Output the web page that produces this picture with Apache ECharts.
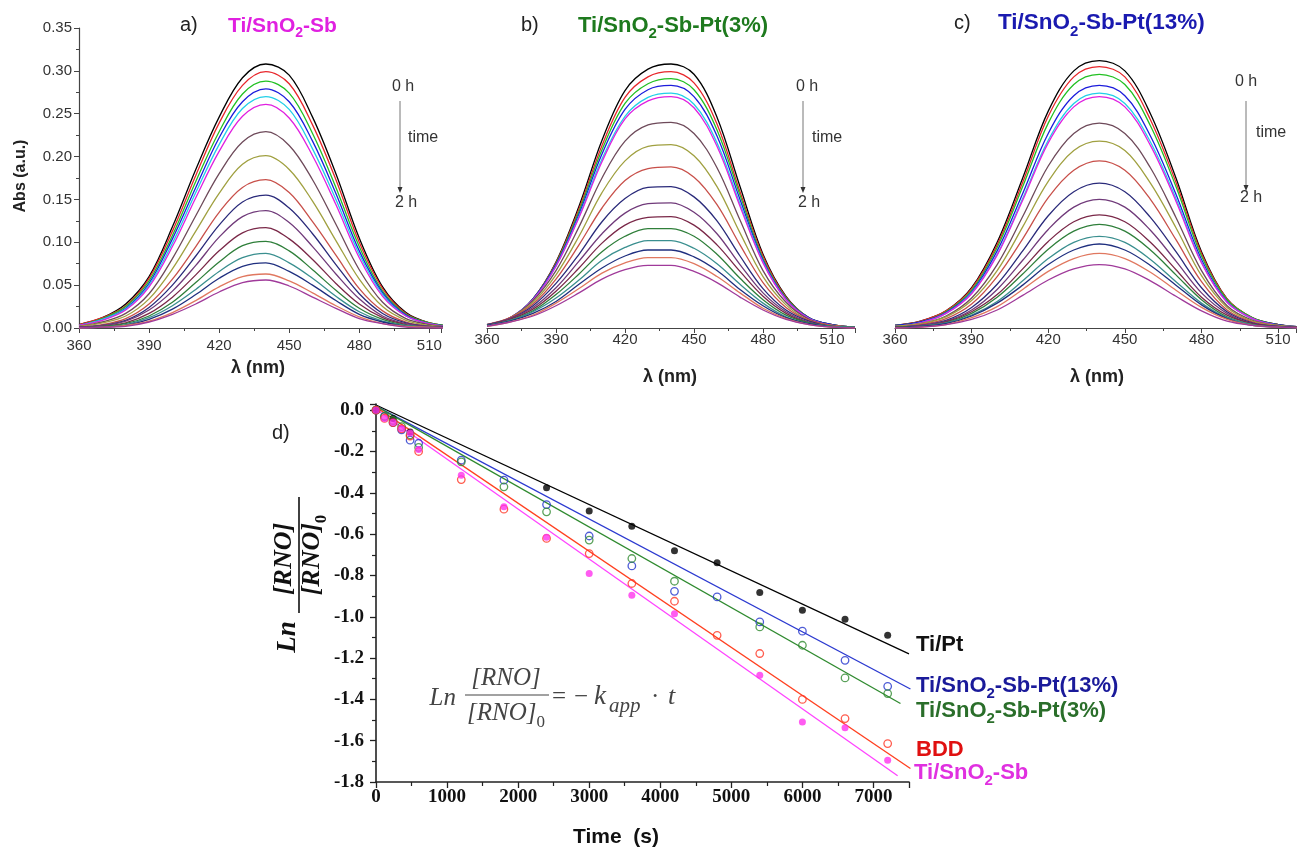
<!DOCTYPE html>
<html><head><meta charset="utf-8">
<script src="https://cdn.jsdelivr.net/npm/echarts@6.0.0/dist/echarts.min.js"></script>
<style>html,body{margin:0;padding:0;background:#fff}#c{width:1297px;height:852px}</style>
</head><body><div id="c"></div><script>
// ---------- DATA ----------
const wavelengths = [360,370,380,390,400,410,420,430,440,450,460,470,480,490,500,510,520];
// panel a) Ti/SnO2-Sb, spectra from 0 h (first) to 2 h (last)
const specA = [
[0.004,0.012,0.028,0.060,0.118,0.185,0.246,0.292,0.308,0.295,0.246,0.180,0.105,0.048,0.018,0.006,0.002],
[0.004,0.012,0.026,0.058,0.113,0.178,0.239,0.283,0.299,0.285,0.237,0.173,0.100,0.046,0.017,0.006,0.002],
[0.003,0.011,0.025,0.055,0.108,0.171,0.229,0.273,0.288,0.274,0.227,0.164,0.095,0.043,0.016,0.006,0.002],
[0.003,0.010,0.023,0.052,0.104,0.164,0.222,0.264,0.279,0.264,0.218,0.157,0.090,0.041,0.015,0.005,0.002],
[0.003,0.010,0.022,0.050,0.099,0.158,0.214,0.256,0.270,0.255,0.209,0.150,0.086,0.039,0.014,0.005,0.001],
[0.003,0.009,0.021,0.048,0.095,0.152,0.206,0.247,0.261,0.245,0.201,0.144,0.082,0.037,0.014,0.005,0.001],
[0.002,0.007,0.017,0.040,0.081,0.131,0.180,0.217,0.229,0.213,0.173,0.121,0.068,0.030,0.011,0.004,0.001],
[0.002,0.006,0.014,0.034,0.069,0.113,0.157,0.191,0.201,0.185,0.148,0.102,0.057,0.025,0.009,0.003,0.001],
[0.001,0.004,0.011,0.028,0.057,0.095,0.135,0.164,0.173,0.158,0.124,0.085,0.046,0.020,0.007,0.002,0.001],
[0.001,0.003,0.009,0.024,0.050,0.084,0.120,0.147,0.155,0.140,0.110,0.074,0.040,0.017,0.006,0.002,0.001],
[0.001,0.003,0.008,0.021,0.043,0.073,0.106,0.130,0.137,0.123,0.095,0.063,0.034,0.014,0.005,0.002,0.000],
[0.000,0.002,0.006,0.017,0.036,0.062,0.090,0.111,0.117,0.104,0.080,0.052,0.028,0.012,0.004,0.001,0.000],
[0.000,0.002,0.005,0.014,0.030,0.053,0.077,0.096,0.101,0.090,0.068,0.044,0.023,0.010,0.003,0.001,0.000],
[0.000,0.001,0.004,0.012,0.026,0.045,0.066,0.082,0.087,0.076,0.058,0.037,0.019,0.008,0.003,0.001,0.000],
[0.000,0.001,0.003,0.010,0.022,0.039,0.058,0.072,0.076,0.066,0.050,0.032,0.016,0.007,0.002,0.001,0.000],
[0.000,0.001,0.003,0.008,0.018,0.032,0.048,0.060,0.063,0.055,0.041,0.026,0.013,0.005,0.002,0.001,0.000],
[0.000,0.001,0.002,0.007,0.016,0.028,0.042,0.053,0.056,0.049,0.036,0.023,0.011,0.005,0.001,0.000,0.000]
];
// panel b) Ti/SnO2-Sb-Pt(3%)
const specB = [
[0.003,0.011,0.034,0.077,0.142,0.219,0.277,0.302,0.308,0.296,0.246,0.165,0.086,0.037,0.012,0.004,0.001],
[0.003,0.011,0.034,0.076,0.139,0.213,0.269,0.293,0.299,0.286,0.238,0.159,0.084,0.036,0.012,0.004,0.001],
[0.003,0.011,0.034,0.075,0.136,0.208,0.262,0.285,0.291,0.278,0.231,0.155,0.081,0.035,0.012,0.004,0.001],
[0.003,0.012,0.034,0.074,0.133,0.203,0.255,0.278,0.283,0.270,0.224,0.150,0.079,0.034,0.012,0.004,0.001],
[0.004,0.012,0.033,0.072,0.130,0.197,0.247,0.269,0.274,0.261,0.216,0.145,0.077,0.033,0.011,0.003,0.001],
[0.004,0.012,0.033,0.072,0.129,0.194,0.244,0.265,0.270,0.257,0.212,0.142,0.076,0.033,0.011,0.003,0.001],
[0.004,0.012,0.032,0.067,0.118,0.175,0.218,0.237,0.240,0.227,0.187,0.126,0.067,0.030,0.010,0.003,0.001],
[0.004,0.012,0.030,0.062,0.107,0.158,0.195,0.212,0.214,0.201,0.165,0.111,0.060,0.027,0.009,0.003,0.001],
[0.004,0.012,0.028,0.057,0.097,0.140,0.172,0.186,0.188,0.176,0.144,0.097,0.053,0.024,0.009,0.003,0.001],
[0.004,0.011,0.026,0.052,0.086,0.124,0.151,0.164,0.165,0.153,0.125,0.084,0.046,0.021,0.008,0.002,0.001],
[0.003,0.011,0.024,0.047,0.078,0.110,0.134,0.145,0.146,0.135,0.110,0.074,0.041,0.019,0.007,0.002,0.001],
[0.003,0.010,0.022,0.043,0.070,0.099,0.120,0.129,0.130,0.120,0.097,0.066,0.037,0.017,0.006,0.002,0.001],
[0.003,0.009,0.020,0.039,0.063,0.089,0.107,0.116,0.116,0.107,0.086,0.058,0.033,0.015,0.006,0.002,0.001],
[0.003,0.009,0.019,0.035,0.056,0.079,0.094,0.102,0.102,0.093,0.075,0.051,0.029,0.013,0.005,0.002,0.001],
[0.003,0.008,0.017,0.031,0.051,0.070,0.084,0.091,0.091,0.083,0.067,0.045,0.026,0.012,0.005,0.001,0.000],
[0.002,0.007,0.015,0.029,0.046,0.064,0.076,0.082,0.082,0.075,0.060,0.041,0.023,0.011,0.004,0.001,0.000],
[0.002,0.007,0.014,0.026,0.041,0.057,0.068,0.073,0.073,0.066,0.053,0.036,0.021,0.010,0.004,0.001,0.000]
];
// panel c) Ti/SnO2-Sb-Pt(13%)
const specC = [
[0.003,0.008,0.020,0.047,0.100,0.175,0.253,0.300,0.312,0.300,0.250,0.175,0.089,0.034,0.012,0.004,0.001],
[0.003,0.008,0.020,0.046,0.097,0.170,0.247,0.293,0.305,0.293,0.243,0.170,0.087,0.034,0.012,0.004,0.001],
[0.003,0.007,0.019,0.044,0.094,0.165,0.239,0.284,0.296,0.284,0.236,0.165,0.084,0.033,0.012,0.004,0.001],
[0.003,0.007,0.018,0.042,0.090,0.157,0.227,0.271,0.283,0.271,0.224,0.156,0.080,0.031,0.011,0.004,0.001],
[0.002,0.006,0.017,0.041,0.086,0.151,0.219,0.262,0.274,0.262,0.217,0.151,0.077,0.030,0.011,0.003,0.001],
[0.002,0.006,0.017,0.040,0.085,0.149,0.216,0.258,0.270,0.258,0.213,0.148,0.076,0.030,0.011,0.003,0.001],
[0.002,0.005,0.014,0.035,0.074,0.130,0.189,0.227,0.239,0.227,0.187,0.129,0.067,0.026,0.009,0.003,0.001],
[0.002,0.005,0.013,0.032,0.067,0.118,0.171,0.207,0.218,0.207,0.169,0.117,0.061,0.024,0.008,0.003,0.001],
[0.001,0.004,0.011,0.028,0.060,0.104,0.152,0.184,0.195,0.184,0.150,0.103,0.054,0.021,0.007,0.002,0.001],
[0.001,0.003,0.009,0.024,0.051,0.090,0.131,0.159,0.169,0.159,0.129,0.089,0.047,0.019,0.006,0.002,0.001],
[0.001,0.003,0.008,0.021,0.045,0.079,0.115,0.141,0.150,0.141,0.114,0.078,0.041,0.017,0.005,0.002,0.000],
[0.001,0.002,0.007,0.019,0.039,0.069,0.101,0.124,0.132,0.124,0.100,0.068,0.036,0.015,0.005,0.001,0.000],
[0.001,0.002,0.006,0.017,0.036,0.063,0.092,0.113,0.121,0.113,0.091,0.062,0.033,0.013,0.004,0.001,0.000],
[0.000,0.002,0.006,0.015,0.031,0.055,0.081,0.100,0.107,0.100,0.080,0.054,0.029,0.012,0.004,0.001,0.000],
[0.000,0.002,0.005,0.014,0.029,0.050,0.074,0.091,0.098,0.091,0.073,0.050,0.027,0.011,0.003,0.001,0.000],
[0.000,0.001,0.004,0.012,0.025,0.045,0.066,0.081,0.087,0.081,0.065,0.044,0.024,0.010,0.003,0.001,0.000],
[0.000,0.001,0.004,0.010,0.021,0.038,0.056,0.069,0.074,0.069,0.055,0.037,0.020,0.008,0.003,0.001,0.000]
];
const curveColors = ['#000000','#e8262b','#22c022','#1c1cdc','#22d0e8','#e020e0','#6e4a5a','#a0a040',
  '#c8504a','#2a2a7a','#703a7a','#7a2848','#2f7f3a','#3a8f8f','#1f2f7f','#e07860','#a03a9a'];
const absTicks = [0,0.35,0.05];            // min, max, step of Abs axis
const lambdaTicks = [360,30];              // first tick, step (nm)

// panel d) kinetics
const timeS  = [0,120,240,360,480,600,1200,1800,2400,3000,3600,4200,4800,5400,6000,6600,7200];
const lnTiPt = [0,null,-0.04,null,-0.105,null,null,null,-0.376,-0.488,-0.562,-0.681,-0.738,-0.883,-0.969,-1.012,-1.090];
const lnPt13 = [0,-0.03,-0.06,-0.095,-0.145,-0.16,-0.242,-0.339,-0.457,-0.609,-0.754,-0.877,-0.904,-1.025,-1.070,-1.211,-1.337];
const lnPt3  = [0,-0.03,-0.05,-0.08,-0.12,-0.18,-0.25,-0.371,-0.492,-0.629,-0.718,-0.828,null,-1.049,-1.138,-1.296,-1.372];
const lnBDD  = [0,-0.04,-0.06,-0.09,-0.125,-0.20,-0.336,-0.479,-0.621,-0.694,-0.839,-0.925,-1.090,-1.178,-1.400,-1.493,-1.614];
const lnSb   = [0,-0.04,-0.06,-0.09,-0.11,-0.19,-0.315,-0.468,-0.615,-0.791,-0.896,-0.985,null,-1.283,-1.509,-1.537,-1.695];
// linear fits (start, end)
const fitTiPt = [[0,0.025],[7500,-1.18]];
const fitPt13 = [[0,0.02],[7520,-1.35]];
const fitPt3  = [[0,0.02],[7380,-1.42]];
const fitBDD  = [[0,0.015],[7520,-1.735]];
const fitSb   = [[0,0.005],[7340,-1.77]];
const seriesNames = ['Ti/Pt','Ti/SnO2-Sb-Pt(13%)','Ti/SnO2-Sb-Pt(3%)','BDD','Ti/SnO2-Sb'];

// ---------- CHART ----------
const SANS = '"Liberation Sans", Arial, sans-serif';
const SERIF = '"Liberation Serif", "Times New Roman", serif';
const chart = echarts.init(document.getElementById('c'), null, {renderer:'canvas'});

function specSeries(spec, idx){
  return spec.map((vals,j)=>({
    type:'line', xAxisIndex:idx, yAxisIndex:idx, symbol:'none', showSymbol:false, smooth:0.35, silent:true,
    lineStyle:{color:curveColors[j], width:1.3}, data: wavelengths.map((w,i)=>[w, vals[i]]), z:2
  }));
}
function pts(vals){ return timeS.map((t,i)=> vals[i]==null? null : [t, vals[i]]).filter(Boolean); }

const axisCol = '#444';
function specX(idx, max, margin){
  return {gridIndex:idx, type:'value', min:lambdaTicks[0], max:max, interval:lambdaTicks[1],
    axisLine:{show:true, onZero:false, lineStyle:{color:axisCol, width:1.2}},
    axisTick:{show:true, length:5, lineStyle:{color:axisCol}},
    minorTick:{show:true, splitNumber:2, length:3, lineStyle:{color:axisCol}},
    splitLine:{show:false}, minorSplitLine:{show:false},
    axisLabel:{margin:margin, fontSize:15, color:'#333', fontFamily:SANS}};
}
function specY(idx, show){
  return {gridIndex:idx, type:'value', min:absTicks[0], max:absTicks[1], interval:absTicks[2], show:show,
    axisLine:{show:true, lineStyle:{color:axisCol, width:1.2}},
    axisTick:{show:true, length:5, lineStyle:{color:axisCol}},
    minorTick:{show:true, splitNumber:2, length:3, lineStyle:{color:axisCol}},
    splitLine:{show:false},
    axisLabel:{margin:7, fontSize:15, color:'#333', fontFamily:SANS, formatter:v=>v.toFixed(2)}};
}

const dCols = {
  tipt:'#000000', p13:'#2233cc', p3:'#2f8a2f', bdd:'#ff3322', sb:'#ff33ee'
};
function fitLine(d,c){ return {type:'line', xAxisIndex:3, yAxisIndex:3, symbol:'none', silent:true, data:d,
  lineStyle:{color:c, width:1.3}, z:3}; }
function scat(name, d, c, filled){ return {type:'scatter', name, xAxisIndex:3, yAxisIndex:3, data:pts(d),
  symbol:'circle', symbolSize:filled?7:7.5, silent:true, z:4,
  itemStyle: filled? {color:c} : {color:'rgba(255,255,255,0)', borderColor:c, borderWidth:1.3}}; }

function T(x,y,text,font,fill,align){
  return {type:'text', x:x, y:y, silent:true, z:50,
    style:{text:text, font:font, fill:fill||'#222', textAlign:align||'left', align:align||'left',
      textVerticalAlign:'middle', verticalAlign:'middle'}};
}
function sub2(x,y,parts,size,color,align){
  // parts: array of [text, isSub]
  const txt = parts.map(p=> (p[1]?'{s|':'{a|') + p[0] + '}').join('');
  const ss = Math.round(size*0.66);
  const lift = Math.round(size*0.2);
  return {type:'text', x:x, y:y, silent:true, z:50,
    style:{text:txt, textAlign:align||'left', align:align||'left', textVerticalAlign:'middle', verticalAlign:'middle',
      rich:{ a:{fontSize:size, fontWeight:'bold', fontFamily:SANS, fill:color, lineHeight:size+2, verticalAlign:'bottom', padding:[0,0,lift,0]},
             s:{fontSize:ss, fontWeight:'bold', fontFamily:SANS, fill:color, lineHeight:ss, verticalAlign:'bottom'} }}};
}
function arrow(x,y1,y2){
  return [
    {type:'line', silent:true, shape:{x1:x,y1:y1,x2:x,y2:y2-4}, style:{stroke:'#777', lineWidth:1}},
    {type:'polygon', silent:true, shape:{points:[[x-2.5,y2-6],[x+2.5,y2-6],[x,y2]]}, style:{fill:'#333'}}
  ];
}

const graphics = [
  // panel titles
  T(180,25,'a)','20px '+SANS,'#222'),
  sub2(228,29,[['Ti/SnO'],['2',1],['-Sb']],21,'#e020e0'),
  T(521,25,'b)','20px '+SANS,'#222'),
  sub2(578,29,[['Ti/SnO'],['2',1],['-Sb-Pt(3%)']],22,'#1e7a1e'),
  T(954,23,'c)','20px '+SANS,'#222'),
  sub2(998,27,[['Ti/SnO'],['2',1],['-Sb-Pt(13%)']],22.5,'#1a1ab0'),
  // time annotations
  T(392,87,'0 h','16px '+SANS,'#333'), T(408,138,'time','16px '+SANS,'#333'), T(395,203,'2 h','16px '+SANS,'#333'),
  ...arrow(400,101,193),
  T(796,87,'0 h','16px '+SANS,'#333'), T(812,138,'time','16px '+SANS,'#333'), T(798,203,'2 h','16px '+SANS,'#333'),
  ...arrow(803,101,193),
  T(1235,82,'0 h','16px '+SANS,'#333'), T(1256,133,'time','16px '+SANS,'#333'), T(1240,198,'2 h','16px '+SANS,'#333'),
  ...arrow(1246,101,191),
  // axis titles top
  {type:'text', x:21, y:176, rotation:Math.PI/2, silent:true,
    style:{text:'Abs (a.u.)', font:'bold 16px '+SANS, fill:'#222', textAlign:'center', align:'center', textVerticalAlign:'middle', verticalAlign:'middle'}},
  T(258,368,'\u03bb (nm)','bold 18px '+SANS,'#222','center'),
  T(670,377,'\u03bb (nm)','bold 18px '+SANS,'#222','center'),
  T(1097,377,'\u03bb (nm)','bold 18px '+SANS,'#222','center'),
  // panel d
  T(272,433,'d)','20px '+SANS,'#222'),
  T(616,837,'Time  (s)','bold 21px '+SANS,'#111','center'),
  // y title of panel d (rotated fraction)
  {type:'group', x:299, y:555, rotation:Math.PI/2, silent:true, children:[
    {type:'text', x:-82, y:-11, style:{text:'Ln', font:'italic bold 27px '+SERIF, fill:'#111', textAlign:'center', align:'center', textVerticalAlign:'middle', verticalAlign:'middle'}},
    {type:'text', x:-4, y:-15, style:{text:'[RNO]', font:'italic bold 26px '+SERIF, fill:'#111', textAlign:'center', align:'center', textVerticalAlign:'middle', verticalAlign:'middle'}},
    {type:'line', shape:{x1:-58,y1:0,x2:58,y2:0}, style:{stroke:'#111', lineWidth:1.6}},
    {type:'text', x:0, y:18, style:{text:'{a|[RNO]}{s|0}', textAlign:'center', align:'center', textVerticalAlign:'middle', verticalAlign:'middle',
      rich:{a:{fontSize:26, fontStyle:'italic', fontWeight:'bold', fontFamily:SERIF, fill:'#111', lineHeight:27, verticalAlign:'bottom', padding:[0,0,5,0]},
            s:{fontSize:17, fontWeight:'bold', fontFamily:SERIF, fill:'#111', lineHeight:17, verticalAlign:'bottom'}}}}
  ]},
  // equation inside plot
  T(456,698,'Ln','italic 25px '+SERIF,'#444','right'),
  T(506,678,'[RNO]','italic 25px '+SERIF,'#444','center'),
  {type:'line', silent:true, shape:{x1:465,y1:695,x2:549,y2:695}, style:{stroke:'#444', lineWidth:1.2}},
  {type:'text', x:506, y:718, silent:true, style:{text:'{a|[RNO]}{s|0}', textAlign:'center', align:'center', textVerticalAlign:'middle', verticalAlign:'middle',
      rich:{a:{fontSize:25, fontStyle:'italic', fontFamily:SERIF, fill:'#444', lineHeight:26, verticalAlign:'bottom', padding:[0,0,5,0]},
            s:{fontSize:17, fontFamily:SERIF, fill:'#444', lineHeight:17, verticalAlign:'bottom'}}}},
  T(552,697,'=','25px '+SERIF,'#444'),
  T(574,697,'\u2212','25px '+SERIF,'#444'),
  T(594,697,'k','italic 27px '+SERIF,'#444'),
  T(609,706,'app','italic 21px '+SERIF,'#444'),
  T(651,697,'\u00b7','25px '+SERIF,'#444'),
  T(668,697,'t','italic 26px '+SERIF,'#444'),
  // series labels panel d
  T(916,645,'Ti/Pt','bold 22px '+SANS,'#111'),
  sub2(916,689,[['Ti/SnO'],['2',1],['-Sb-Pt(13%)']],22,'#1a1a9a'),
  sub2(916,714,[['Ti/SnO'],['2',1],['-Sb-Pt(3%)']],22,'#2a6e2a'),
  T(916,750,'BDD','bold 22px '+SANS,'#e01010'),
  sub2(914,776,[['Ti/SnO'],['2',1],['-Sb']],22,'#e030e0')
];

const option = {
  animation:false,
  backgroundColor:'#ffffff',
  grid:[
    {left:79, top:28, width:362, height:300},
    {left:487, top:28, width:368, height:300},
    {left:895, top:28, width:401, height:300},
    {left:376, top:404, width:533, height:378}
  ],
  xAxis:[
    specX(0,515,10), specX(1,520,4), specX(2,517,4),
    {gridIndex:3, type:'value', min:0, max:7500, interval:1000,
      axisLine:{show:true, onZero:false, lineStyle:{color:'#222', width:1.6}},
      axisTick:{show:true, length:6, lineStyle:{color:'#222', width:1.3}},
      minorTick:{show:true, splitNumber:2, length:4, lineStyle:{color:'#222', width:1.2}},
      splitLine:{show:false},
      axisLabel:{margin:6, fontSize:19, fontWeight:'bold', color:'#111', fontFamily:SERIF, formatter:v=>String(Math.round(v))}}
  ],
  yAxis:[
    specY(0,true), specY(1,false), specY(2,false),
    {gridIndex:3, type:'value', min:-1.8, max:0.03, interval:0.2,
      axisLine:{show:true, onZero:false, lineStyle:{color:'#222', width:1.6}},
      axisTick:{show:true, length:6, lineStyle:{color:'#222', width:1.3}},
      minorTick:{show:true, splitNumber:2, length:4, lineStyle:{color:'#222', width:1.2}},
      splitLine:{show:false},
      axisLabel:{margin:12, fontSize:19, fontWeight:'bold', color:'#111', fontFamily:SERIF,
        formatter:v=> Math.abs(v)<1e-9 ? '0.0' : v.toFixed(1)}}
  ],
  series:[
    ...specSeries(specA,0), ...specSeries(specB,1), ...specSeries(specC,2),
    fitLine(fitTiPt,dCols.tipt), fitLine(fitPt13,'#2c3ad0'), fitLine(fitPt3,'#2f8a2f'), fitLine(fitBDD,'#ff4020'), fitLine(fitSb,'#ff44ff'),
    scat(seriesNames[0], lnTiPt, dCols.tipt, true),
    scat(seriesNames[1], lnPt13, dCols.p13, false),
    scat(seriesNames[2], lnPt3, dCols.p3, false),
    scat(seriesNames[3], lnBDD, dCols.bdd, false),
    scat(seriesNames[4], lnSb, dCols.sb, true)
  ],
  graphic: graphics
};
chart.setOption(option);
</script></body></html>
